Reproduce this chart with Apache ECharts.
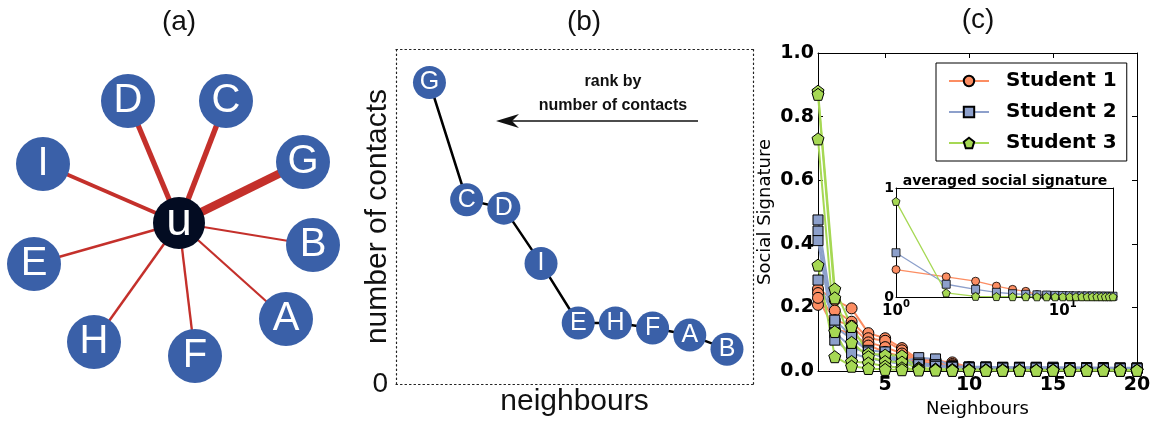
<!DOCTYPE html>
<html><head><meta charset="utf-8">
<script src="https://cdn.jsdelivr.net/npm/echarts@6/dist/echarts.min.js"></script>
<style>html,body{margin:0;padding:0;background:#fff}#c{width:1156px;height:425px}</style>
</head><body><div id="c"></div>
<script>
// ---------- Panel (a): ego network ----------
const egoName = 'u';
const egoPos = [179, 223];
const nodeNames = ['D', 'C', 'G', 'I', 'B', 'E', 'A', 'H', 'F'];
const nodeX = [128, 226, 303, 43, 313, 34, 286, 94, 195];
const nodeY = [101, 101, 162, 164, 245, 264, 319, 342, 356];

// ---------- Panel (b): ranked contacts ----------
const rankNames = ['G', 'C', 'D', 'I', 'E', 'H', 'F', 'A', 'B'];
const contacts = [9.0, 5.5, 5.25, 3.6, 1.82, 1.82, 1.67, 1.46, 1.04];

// ---------- Panel (c): social signatures ----------
const neighbours = [1,2,3,4,5,6,7,8,9,10,11,12,13,14,15,16,17,18,19,20];
const student1 = [
  [0.258,0.223,0.197,0.119,0.103,0.072,0.036,0.032,0.027,0.012,0.010,0.009,0.008,0.007,0.006,0.006,0.005,0.005,0.004,0.004],
  [0.208,0.190,0.155,0.103,0.095,0.065,0.030,0.035,0.022,0.010,0.009,0.008,0.007,0.006,0.006,0.005,0.005,0.004,0.004,0.003],
  [0.245,0.160,0.142,0.090,0.075,0.055,0.028,0.025,0.018,0.009,0.008,0.007,0.006,0.006,0.005,0.005,0.004,0.004,0.003,0.003],
  [0.230,0.130,0.120,0.080,0.060,0.045,0.025,0.020,0.015,0.008,0.007,0.006,0.006,0.005,0.005,0.004,0.004,0.003,0.003,0.003]
];
const student2 = [
  [0.475,0.140,0.100,0.065,0.060,0.030,0.042,0.038,0.015,0.013,0.013,0.012,0.012,0.012,0.012,0.011,0.011,0.011,0.010,0.010],
  [0.440,0.120,0.075,0.055,0.045,0.035,0.025,0.020,0.013,0.012,0.012,0.011,0.011,0.011,0.010,0.010,0.010,0.009,0.009,0.009],
  [0.410,0.097,0.056,0.040,0.030,0.022,0.018,0.015,0.012,0.011,0.011,0.010,0.010,0.010,0.009,0.009,0.009,0.008,0.008,0.008],
  [0.286,0.160,0.110,0.060,0.040,0.030,0.020,0.015,0.012,0.010,0.010,0.009,0.009,0.009,0.008,0.008,0.008,0.007,0.007,0.007]
];
const student3 = [
  [0.880,0.258,0.140,0.055,0.050,0.048,0.010,0.006,0.005,0.004,0.004,0.004,0.003,0.003,0.003,0.003,0.003,0.003,0.003,0.003],
  [0.870,0.230,0.090,0.045,0.030,0.028,0.008,0.005,0.004,0.004,0.003,0.003,0.003,0.003,0.003,0.003,0.003,0.002,0.002,0.002],
  [0.730,0.124,0.030,0.025,0.015,0.010,0.005,0.004,0.003,0.003,0.003,0.002,0.002,0.002,0.002,0.002,0.002,0.002,0.002,0.002],
  [0.333,0.045,0.015,0.008,0.005,0.004,0.003,0.003,0.002,0.002,0.002,0.002,0.002,0.002,0.002,0.002,0.002,0.002,0.002,0.002]
];
const avg1 = [0.252,0.185,0.145,0.100,0.070,0.052,0.022,0.015,0.012,0.010,0.008,0.007,0.006,0.005,0.005,0.004,0.004,0.003,0.003,0.003];
const avg2 = [0.406,0.117,0.070,0.043,0.030,0.025,0.020,0.018,0.015,0.013,0.012,0.011,0.010,0.010,0.009,0.009,0.008,0.008,0.007,0.007];
const avg3 = [0.877,0.037,0.006,0.004,0.003,0.003,0.002,0.002,0.002,0.002,0.002,0.002,0.002,0.002,0.002,0.002,0.002,0.002,0.002,0.002];
const mainXTicks = [5, 10, 15, 20];

// ---------- styles ----------
const NODE_BLUE = '#3A60A8';
const EDGE_RED = '#C4302B';
const EGO_FILL = '#030C22';
const C1 = '#FC8D62', C2 = '#8DA0CB', C3 = '#A6D854';
const SANS = 'Liberation Sans';
const DV = 'DejaVu Sans';
const PENT = 'path://M0,-10L9.51,-3.09L5.88,8.09L-5.88,8.09L-9.51,-3.09Z';
const students = [
  {name:'Student 1', lines:student1, avg:avg1, color:C1, symbol:'circle', size:11, isize:8},
  {name:'Student 2', lines:student2, avg:avg2, color:C2, symbol:'rect', size:10, isize:8},
  {name:'Student 3', lines:student3, avg:avg3, color:C3, symbol:PENT, size:12, isize:8}
];

const contactOf = {};
rankNames.forEach((n, i) => { contactOf[n] = contacts[i]; });

const graphNodes = [{name: egoName, value: egoPos, symbolSize: 52,
  itemStyle: {color: EGO_FILL}, label: {fontSize: 46, offset: [0, -1]}}]
  .concat(nodeNames.map((n, i) => ({name: n, value: [nodeX[i], nodeY[i]]})));
const graphLinks = nodeNames.map(n => ({source: egoName, target: n,
  lineStyle: {width: 1 + 0.8 * contactOf[n]}}));

const dottedLine = {show: true, onZero: false, lineStyle: {color: '#222', width: 1.2, type: [1.5, 3]}};
const blackLine = {show: true, onZero: false, lineStyle: {color: '#000', width: 1}};

const series = [];
series.push({
  type: 'graph', coordinateSystem: 'cartesian2d', xAxisIndex: 0, yAxisIndex: 0,
  symbol: 'circle', symbolSize: 54, silent: true,
  itemStyle: {color: NODE_BLUE},
  label: {show: true, position: 'inside', color: '#fff', fontSize: 40, fontFamily: SANS, formatter: '{b}'},
  lineStyle: {color: EDGE_RED, opacity: 1, curveness: 0},
  data: graphNodes, links: graphLinks, z: 2
});
series.push({
  type: 'line', xAxisIndex: 1, yAxisIndex: 1, silent: true,
  data: rankNames.map((n, i) => ({name: n, value: [i + 1, contacts[i]]})),
  symbol: 'circle', symbolSize: 33,
  itemStyle: {color: NODE_BLUE},
  lineStyle: {color: '#000', width: 2.5},
  label: {show: true, position: 'inside', formatter: '{b}', color: '#fff', fontSize: 25, fontFamily: SANS}
});
students.forEach(s => {
  s.lines.forEach(arr => {
    series.push({
      type: 'line', name: s.name, xAxisIndex: 3, yAxisIndex: 3,
      data: arr.map((v, i) => [neighbours[i], v]),
      symbol: s.symbol, symbolSize: s.size,
      lineStyle: {color: s.color, width: 2},
      itemStyle: {color: s.color, borderColor: '#000', borderWidth: 1}
    });
  });
});
students.forEach(s => {
  series.push({
    type: 'line', name: s.name + ' avg', xAxisIndex: 5, yAxisIndex: 5,
    data: s.avg.map((v, i) => [neighbours[i], v]),
    symbol: s.symbol, symbolSize: s.isize,
    lineStyle: {color: s.color, width: 1.3},
    itemStyle: {color: s.color, borderColor: '#000', borderWidth: 0.8}
  });
});

const option = {
  animation: false,
  backgroundColor: '#fff',
  grid: [
    {left: 0, top: 0, width: 360, height: 425},
    {left: 396, top: 49, width: 357, height: 335},
    {left: 818, top: 53, width: 319, height: 318},
    {left: 896, top: 188, width: 217, height: 109, show: true, backgroundColor: '#fff', borderWidth: 0}
  ],
  xAxis: [
    {gridIndex: 0, type: 'value', min: 0, max: 360, show: false},
    {gridIndex: 1, type: 'value', min: 0.1, max: 9.7, axisLine: dottedLine, axisTick: {show: false},
     axisLabel: {show: false}, splitLine: {show: false},
     name: 'neighbours', nameLocation: 'middle', nameGap: 3,
     nameTextStyle: {fontFamily: SANS, fontSize: 30, color: '#111', verticalAlign: 'top'}},
    {gridIndex: 1, type: 'value', position: 'top', min: 0.1, max: 9.7, axisLine: dottedLine,
     axisTick: {show: false}, axisLabel: {show: false}, splitLine: {show: false}},
    {gridIndex: 2, type: 'value', min: 1, max: 20, axisLine: blackLine,
     axisTick: {inside: true, length: 5, customValues: mainXTicks, lineStyle: {color: '#000'}},
     axisLabel: {customValues: mainXTicks, fontFamily: DV, fontWeight: 'bold', fontSize: 19, color: '#000', margin: 5},
     splitLine: {show: false},
     name: 'Neighbours', nameLocation: 'middle', nameGap: 27,
     nameTextStyle: {fontFamily: DV, fontSize: 18, color: '#000', verticalAlign: 'top'}},
    {gridIndex: 2, type: 'value', position: 'top', min: 1, max: 20, axisLine: blackLine,
     axisTick: {inside: true, length: 5, customValues: mainXTicks, lineStyle: {color: '#000'}},
     axisLabel: {show: false}, splitLine: {show: false}},
    {gridIndex: 3, type: 'log', logBase: 10, min: 1, max: 20, axisLine: blackLine,
     axisTick: {inside: true, length: 4, lineStyle: {color: '#000'}},
     axisLabel: {margin: 2, color: '#000',
       formatter: v => {
         const e = Math.log10(v);
         if (Math.abs(e - Math.round(e)) > 1e-6) return '';
         return '{b|10}{s|' + Math.round(e) + '}';
       },
       rich: {
         b: {fontFamily: DV, fontWeight: 'bold', fontSize: 15, color: '#000', lineHeight: 20, verticalAlign: 'bottom'},
         s: {fontFamily: DV, fontWeight: 'bold', fontSize: 10, color: '#000', lineHeight: 20, verticalAlign: 'top'}
       }},
     splitLine: {show: false}},
    {gridIndex: 3, type: 'value', position: 'top', min: 0, max: 1, axisLine: blackLine,
     axisTick: {show: false}, axisLabel: {show: false}, splitLine: {show: false}}
  ],
  yAxis: [
    {gridIndex: 0, type: 'value', min: 0, max: 425, inverse: true, show: false},
    {gridIndex: 1, type: 'value', min: 0, max: 10, interval: 10, axisLine: dottedLine,
     axisTick: {show: false}, splitLine: {show: false},
     axisLabel: {formatter: v => (v === 0 ? '0' : ''), fontFamily: SANS, fontSize: 28, color: '#111', margin: 8},
     name: 'number of contacts', nameLocation: 'middle', nameGap: 3, nameMoveOverlap: false,
     nameTextStyle: {fontFamily: SANS, fontSize: 30, color: '#111'}},
    {gridIndex: 1, type: 'value', position: 'right', min: 0, max: 10, axisLine: dottedLine,
     axisTick: {show: false}, axisLabel: {show: false}, splitLine: {show: false}},
    {gridIndex: 2, type: 'value', min: 0, max: 1, interval: 0.2, axisLine: blackLine,
     axisTick: {inside: true, length: 5, lineStyle: {color: '#000'}},
     axisLabel: {formatter: v => v.toFixed(1), fontFamily: DV, fontWeight: 'bold', fontSize: 19, color: '#000', margin: 4},
     splitLine: {show: false},
     name: 'Social Signature', nameLocation: 'middle', nameGap: 44,
     nameTextStyle: {fontFamily: DV, fontSize: 18, color: '#000'}},
    {gridIndex: 2, type: 'value', position: 'right', min: 0, max: 1, interval: 0.2, axisLine: blackLine,
     axisTick: {inside: true, length: 5, lineStyle: {color: '#000'}},
     axisLabel: {show: false}, splitLine: {show: false}},
    {gridIndex: 3, type: 'value', min: 0, max: 1, interval: 1, axisLine: blackLine,
     axisTick: {inside: true, length: 4, lineStyle: {color: '#000'}},
     axisLabel: {fontFamily: DV, fontWeight: 'bold', fontSize: 14, color: '#000', margin: 2},
     splitLine: {show: false}},
    {gridIndex: 3, type: 'value', position: 'right', min: 0, max: 1, interval: 1, axisLine: blackLine,
     axisTick: {inside: true, length: 4, lineStyle: {color: '#000'}},
     axisLabel: {show: false}, splitLine: {show: false}}
  ],
  legend: {
    data: ['Student 1', 'Student 2', 'Student 3'],
    orient: 'vertical', left: 936, top: 63,
    padding: [8, 10, 8, 12], itemGap: 11, itemWidth: 40, itemHeight: 13,
    backgroundColor: '#fff', borderColor: '#000', borderWidth: 1, borderRadius: 0,
    selectedMode: false,
    textStyle: {fontFamily: DV, fontWeight: 'bold', fontSize: 20, color: '#000', padding: [0, 0, 0, 12]}
  },
  graphic: [
    {type: 'text', x: 179, y: 22, style: {text: '(a)', font: '28px "Liberation Sans"', fill: '#111', align: 'center', verticalAlign: 'middle'}},
    {type: 'text', x: 584, y: 22, style: {text: '(b)', font: '28px "Liberation Sans"', fill: '#111', align: 'center', verticalAlign: 'middle'}},
    {type: 'text', x: 978, y: 20, style: {text: '(c)', font: '28px "Liberation Sans"', fill: '#111', align: 'center', verticalAlign: 'middle'}},
    {type: 'text', x: 613, y: 94, style: {text: 'rank by\nnumber of contacts', font: 'bold 16px "Liberation Sans"', fill: '#111', align: 'center', verticalAlign: 'middle', lineHeight: 24}},
    {type: 'line', shape: {x1: 698, y1: 121, x2: 510, y2: 121}, style: {stroke: '#111', lineWidth: 1.5}},
    {type: 'polygon', shape: {points: [[496, 121], [519, 114], [512, 121], [519, 128]]}, style: {fill: '#111'}},
    {type: 'text', x: 1005, y: 181, style: {text: 'averaged social signature', font: 'bold 14px "DejaVu Sans"', fill: '#000', align: 'center', verticalAlign: 'middle'}}
  ],
  series: series
};
const chart = echarts.init(document.getElementById('c'), null, {renderer: 'canvas'});
chart.setOption(option);
</script></body></html>
